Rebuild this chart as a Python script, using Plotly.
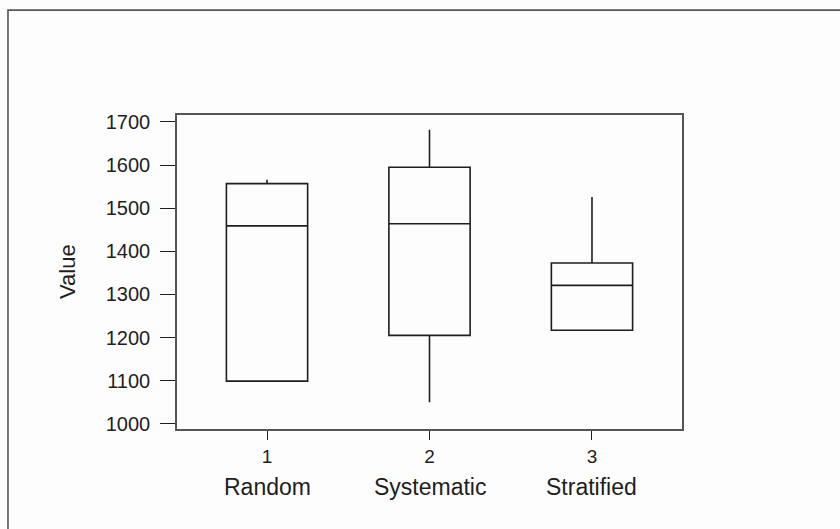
import plotly.graph_objects as go

# Sampling methods and their five-number summaries
methods = ["Random", "Systematic", "Stratified"]
positions = [1, 2, 3]
lower_whisker = [1099, 1050, 1215]
q1_values = [1099, 1205, 1217]
median_values = [1459, 1464, 1321]
q3_values = [1557, 1595, 1373]
upper_whisker = [1566, 1682, 1526]

y_ticks = [1000, 1100, 1200, 1300, 1400, 1500, 1600, 1700]

FONT = "Liberation Sans, Arial, sans-serif"
INK = "#1e1e1e"
FRAME = "#555555"

fig = go.Figure()
for i, name in enumerate(methods):
    fig.add_trace(go.Box(
        x=[positions[i]],
        q1=[q1_values[i]],
        median=[median_values[i]],
        q3=[q3_values[i]],
        lowerfence=[lower_whisker[i]],
        upperfence=[upper_whisker[i]],
        name=name,
        width=0.5,
        whiskerwidth=0,
        boxpoints=False,
        fillcolor="rgba(0,0,0,0)",
        line=dict(color=INK, width=1.6),
        showlegend=False,
        hoverinfo="skip",
    ))

# Group names under the numeric tick labels
for pos, name in zip(positions, methods):
    fig.add_annotation(
        x=pos, xref="x", y=-0.185, yref="paper",
        text=name, showarrow=False, yanchor="middle", xanchor="center",
        font=dict(family=FONT, size=23, color=INK),
    )

# Vertical axis title
fig.add_annotation(
    x=-0.218, xref="paper", y=0.503, yref="paper",
    text="Value", textangle=-90, showarrow=False,
    xanchor="center", yanchor="middle",
    font=dict(family=FONT, size=22, color=INK),
)

# Outer border around the whole graphic
fig.add_shape(
    type="rect", xref="paper", yref="paper",
    x0=-0.3347, x1=1.33, y0=-0.36, y1=1.334,
    line=dict(color=FRAME, width=1.6), fillcolor="rgba(0,0,0,0)",
    layer="below",
)

fig.update_xaxes(
    range=[0.446, 3.554],
    tickmode="array", tickvals=positions, ticktext=[str(p) for p in positions],
    ticks="outside", ticklen=9, tickwidth=1.4, tickcolor=INK,
    showline=True, mirror=True, linecolor=FRAME, linewidth=1.6,
    showgrid=False, zeroline=False,
    tickfont=dict(family=FONT, size=19, color=INK),
)
fig.update_yaxes(
    range=[988, 1716],
    tickmode="array", tickvals=y_ticks,
    ticks="outside", ticklen=15, tickwidth=1.4, tickcolor=INK,
    ticklabelstandoff=6,
    showline=True, mirror=True, linecolor=FRAME, linewidth=1.6,
    showgrid=False, zeroline=False,
    tickfont=dict(family=FONT, size=20, color=INK),
)

fig.update_layout(
    width=840, height=529,
    margin=dict(l=177, r=158, t=115, b=100),
    paper_bgcolor="#fdfdfd", plot_bgcolor="#fdfdfd",
    font=dict(family=FONT, color=INK),
)

fig.write_html("out.html")
